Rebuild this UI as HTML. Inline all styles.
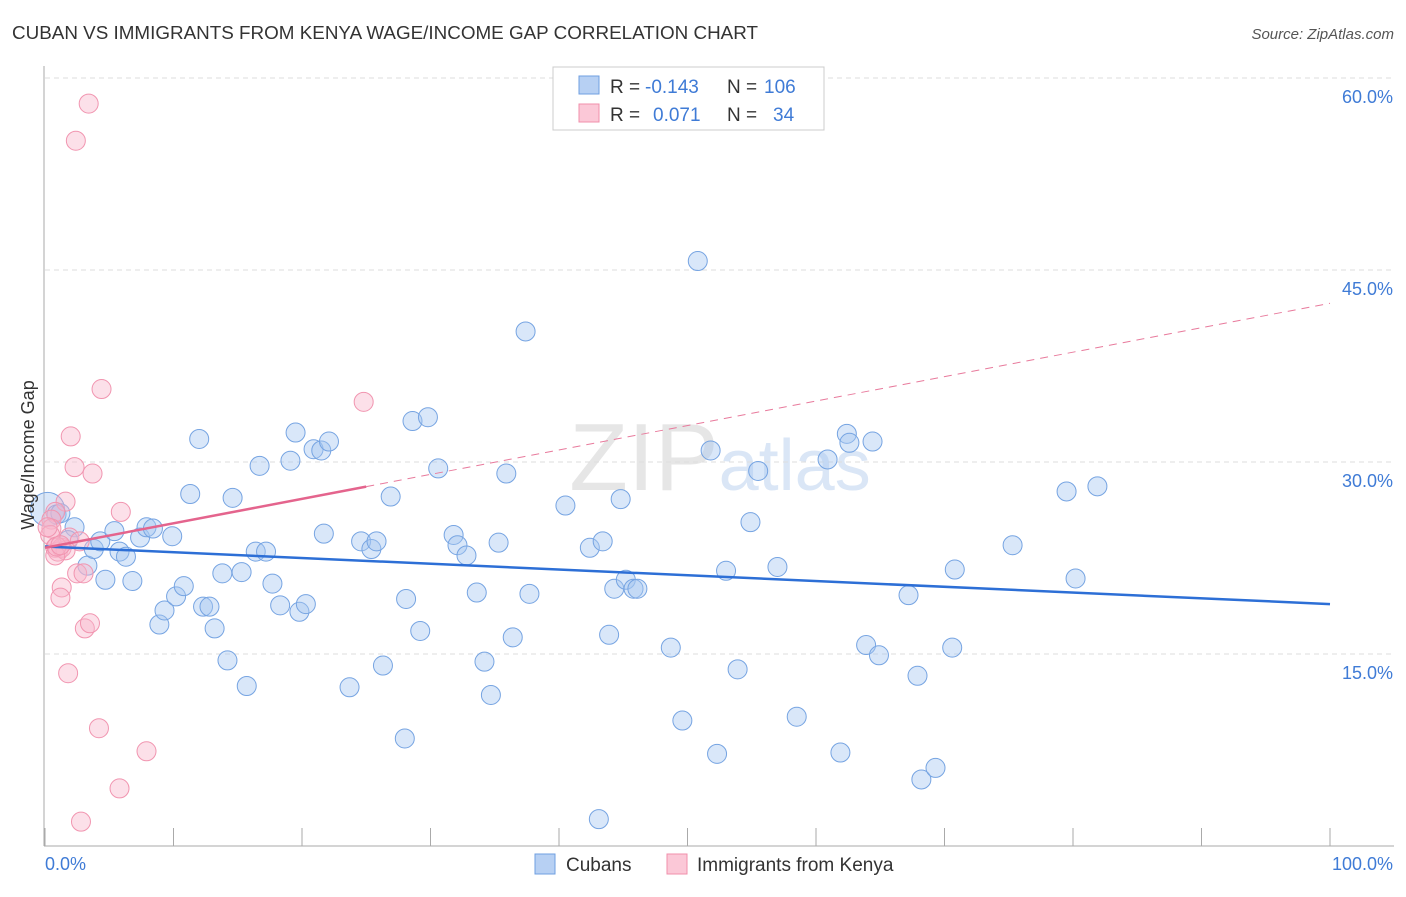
<!DOCTYPE html>
<html><head><meta charset="utf-8"><style>
body{margin:0;background:#fff;font-family:"Liberation Sans",sans-serif}
svg text{font-family:"Liberation Sans",sans-serif}
</style></head><body>
<svg id="c" width="1406" height="892" xmlns="http://www.w3.org/2000/svg">
<text x="12" y="39" font-size="18" fill="#333" textLength="746" lengthAdjust="spacingAndGlyphs">CUBAN VS IMMIGRANTS FROM KENYA WAGE/INCOME GAP CORRELATION CHART</text>
<text x="1394" y="39" font-size="15" fill="#555" text-anchor="end" font-style="italic">Source: ZipAtlas.com</text>
<text x="720" y="490" font-size="96" fill="#e6e6e6" text-anchor="middle" font-family="Liberation Serif">ZIP<tspan font-family="Liberation Sans" font-size="72" fill="#dae6f6">atlas</tspan></text>
<g id="grid"></g>
<g id="axes"></g>
<g id="marks"></g>
<text transform="translate(34,455) rotate(-90)" font-size="18" fill="#333" text-anchor="middle">Wage/Income Gap</text>
<g>
<rect x="553" y="67" width="271" height="63" fill="#fff" stroke="#ccc"/>
<rect x="579" y="76" width="20" height="18" fill="#b7d0f3" stroke="#6f9fe0"/>
<rect x="579" y="104" width="20" height="18" fill="#fbc8d7" stroke="#f08fab"/>
<text x="610" y="93" font-size="19" fill="#333">R =</text>
<text x="645" y="93" font-size="19" fill="#3f7bd6">-0.143</text>
<text x="727" y="93" font-size="19" fill="#333">N =</text>
<text x="764" y="93" font-size="19" fill="#3f7bd6">106</text>
<text x="610" y="121" font-size="19" fill="#333">R =</text>
<text x="653" y="121" font-size="19" fill="#3f7bd6">0.071</text>
<text x="727" y="121" font-size="19" fill="#333">N =</text>
<text x="773" y="121" font-size="19" fill="#3f7bd6">34</text>
</g>
<g>
<rect x="535" y="854" width="20" height="20" fill="#b7d0f3" stroke="#6f9fe0"/>
<text x="566" y="871" font-size="19" fill="#333">Cubans</text>
<rect x="667" y="854" width="20" height="20" fill="#fbc8d7" stroke="#f08fab"/>
<text x="697" y="871" font-size="19" fill="#333">Immigrants from Kenya</text>
</g>
</svg>
<script>
const yTicks=[15,30,45,60];
const yTickLabels=["15.0%","30.0%","45.0%","60.0%"];
const xTickVals=[0,10,20,30,40,50,60,70,80,90,100];
const cubanX=[0.2,0.9,1.2,2.3,1.8,3.3,3.8,4.3,4.7,5.4,5.8,6.3,6.8,7.4,7.9,8.4,8.9,9.3,9.9,10.2,10.8,11.3,12.0,12.3,12.8,13.2,13.8,14.2,14.6,15.3,15.7,16.4,16.7,17.2,17.7,18.3,19.1,19.5,19.8,20.3,20.9,21.5,21.7,22.1,23.7,24.6,25.4,25.8,26.3,26.9,28.1,28.0,28.6,29.2,29.8,30.6,31.8,32.1,32.8,33.6,34.2,34.7,35.3,35.9,36.4,37.4,37.7,40.5,42.4,43.1,43.4,43.9,44.3,44.8,45.2,45.8,46.1,48.7,49.6,50.8,51.8,52.3,53.0,53.9,54.9,55.5,57.0,58.5,60.9,61.9,62.4,62.6,63.9,64.4,64.9,67.2,67.9,68.2,69.3,70.6,70.8,75.3,79.5,80.2,81.9];
const cubanY=[26.3,25.9,26.0,24.9,23.9,21.9,23.2,23.8,20.8,24.6,23.0,22.6,20.7,24.1,24.9,24.8,17.3,18.4,24.2,19.5,20.3,27.5,31.8,18.7,18.7,17.0,21.3,14.5,27.2,21.4,12.5,23.0,29.7,23.0,20.5,18.8,30.1,32.3,18.3,18.9,31.0,30.9,24.4,31.6,12.4,23.8,23.2,23.8,14.1,27.3,19.3,8.4,33.2,16.8,33.5,29.5,24.3,23.5,22.7,19.8,14.4,11.8,23.7,29.1,16.3,40.2,19.7,26.6,23.3,2.1,23.8,16.5,20.1,27.1,20.8,20.1,20.1,15.5,9.8,45.7,30.9,7.2,21.5,13.8,25.3,29.3,21.8,10.1,30.2,7.3,32.2,31.5,15.7,31.6,14.9,19.6,13.3,5.2,6.1,15.5,21.6,23.5,27.7,20.9,28.1];
const kenyaX=[3.4,2.4,4.4,24.8,2.0,2.3,3.7,1.6,5.9,0.8,0.5,0.5,0.4,0.8,1.0,1.3,1.9,2.7,1.6,0.8,1.3,1.2,2.5,3.0,3.1,3.5,1.8,4.2,7.9,5.8,2.8,0.9,1.2,0.2];
const kenyaY=[58.0,55.1,35.7,34.7,32.0,29.6,29.1,26.9,26.1,26.1,25.5,24.8,24.3,23.3,23.0,23.3,24.1,23.8,23.1,22.7,20.2,19.4,21.3,21.3,17.0,17.4,13.5,9.2,7.4,4.5,1.9,23.4,23.5,24.9];
const cubanTrend=[23.4,18.9];
const kenyaTrend=[23.3,42.4];
const kenyaSolidEnd=25;

const X=v=>45+v*12.85, Y=v=>846-v*12.8;
const NS="http://www.w3.org/2000/svg";
function mk(tag,attrs,parent){const e=document.createElementNS(NS,tag);for(const k in attrs)e.setAttribute(k,attrs[k]);parent.appendChild(e);return e;}
const grid=document.getElementById('grid'),axes=document.getElementById('axes'),marks=document.getElementById('marks');
yTicks.forEach((t,i)=>{
 const l=mk('line',{x1:45,x2:1394,y1:Y(t),y2:Y(t),stroke:'#ddd','stroke-dasharray':'5,4'},grid);
 
 
 const tx=mk('text',{x:1393,y:Y(t)+25,'font-size':18,fill:'#3f7bd6','text-anchor':'end'},axes);
 tx.textContent=yTickLabels[i];
 
 
});
const ya=mk('line',{x1:44,x2:44,y1:66,y2:846,stroke:'#aaa'},axes);


const xa=mk('line',{x1:44,x2:1394,y1:846,y2:846,stroke:'#aaa'},axes);


xTickVals.forEach(t=>{
 const l=mk('line',{x1:X(t),x2:X(t),y1:828,y2:846,stroke:'#aaa'},axes);
 
 
});
[[0,'0.0%','start',45],[100,'100.0%','end',1393]].forEach(a=>{
 const tx=mk('text',{x:a[3],y:870,'font-size':18,fill:'#3f7bd6','text-anchor':a[2]},axes);
 tx.textContent=a[1];
 
 
});
cubanX.forEach((v,i)=>{
 const c=mk('circle',{cx:X(v),cy:Y(cubanY[i]),r:i===0?17:9.5,fill:'rgba(165,198,240,0.42)',stroke:'#76a4e2','stroke-width':1},marks);
 
 
});
kenyaX.forEach((v,i)=>{
 const c=mk('circle',{cx:X(v),cy:Y(kenyaY[i]),r:9.5,fill:'rgba(248,182,202,0.42)',stroke:'#f195b0','stroke-width':1},marks);
 
 
});
const cl=mk('line',{x1:X(0),y1:Y(cubanTrend[0]),x2:X(100),y2:Y(cubanTrend[1]),stroke:'#2d6fd6','stroke-width':2.5},marks);


const kAt=x=>kenyaTrend[0]+(kenyaTrend[1]-kenyaTrend[0])*x/100;
const kd=mk('line',{x1:X(kenyaSolidEnd),y1:Y(kAt(kenyaSolidEnd)),x2:X(100),y2:Y(kAt(100)),stroke:'#e87a9c','stroke-width':1,'stroke-dasharray':'8,6'},marks);


const ks=mk('line',{x1:X(0),y1:Y(kAt(0)),x2:X(kenyaSolidEnd),y2:Y(kAt(kenyaSolidEnd)),stroke:'#e4648d','stroke-width':2.5},marks);


</script>
</body></html>
